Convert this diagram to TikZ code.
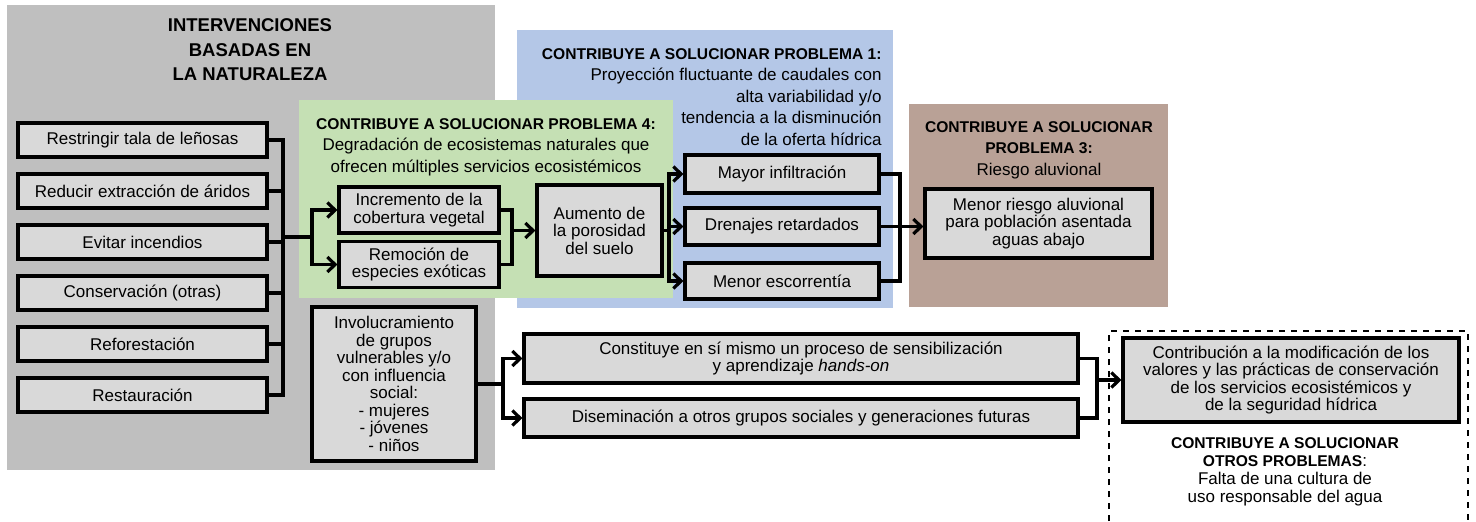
\documentclass[tikz,border=0pt]{standalone}
\usepackage{fontspec}
\setmainfont{Liberation Sans}
\usetikzlibrary{arrows.meta}

\definecolor{grisfondo}{HTML}{BFBFBF}
\definecolor{griscaja}{HTML}{D9D9D9}
\definecolor{verdep}{HTML}{C5E0B4}
\definecolor{azulp}{HTML}{B4C7E7}
\definecolor{cafep}{HTML}{B9A196}

\newcommand{\encab}[1]{{\fontsize{7.8}{10.75}\selectfont\bfseries #1}}

\begin{document}
\begin{tikzpicture}[
	         x             = 0.5pt,
	         y             = -0.5pt,
	         caja/.style   = {draw, line width=1.7pt, fill=griscaja, align=center, inner sep=1pt,
	                          font=\fontsize{8.5}{8.75}\selectfont},
	         linea/.style  = {line width=1.6pt, line cap=rect},
	         flecha/.style = {line width=1.6pt, line cap=rect, -{Straight Barb[length=3.8pt,width=7.5pt]}},
	         titulo/.style = {align=center, inner sep=0pt, font=\fontsize{8.5}{10.75}\selectfont}]
	  \useasboundingbox (0,0) rectangle (1476,521);
	  \fill [grisfondo] (7,5) rectangle (495,470);
	  \fill [azulp] (517,30) rectangle (893,308);
	  \fill [verdep] (299,100) rectangle (673,298);
	  \fill [cafep] (909,104) rectangle (1168,307);
	  \draw [dashed, line width=0.7pt] (1109,521) -- (1109,331) -- (1468,331) -- (1468,521);

	  \node [titulo, font=\fontsize{9.25}{12.25}\selectfont\bfseries] (tnat) at (250,50) {INTERVENCIONES\\BASADAS EN\\LA NATURALEZA};
	  \node [titulo] (tverde) at (486,147) {\encab{CONTRIBUYE A SOLUCIONAR PROBLEMA 4:}\\Degradación de ecosistemas naturales que\\ofrecen múltiples servicios ecosistémicos};
	  \node [titulo, align=right, anchor=east] (tazul) at (882,97) {\encab{CONTRIBUYE A SOLUCIONAR PROBLEMA 1:}\\Proyección fluctuante de caudales con\\alta variabilidad y/o\\tendencia a la disminución\\de la oferta hídrica};
	  \node [titulo] (tcafe) at (1039,150) {\encab{CONTRIBUYE A SOLUCIONAR}\\\encab{PROBLEMA 3:}\\Riesgo aluvional};
	  \node [titulo, font=\fontsize{8.5}{9}\selectfont] (totros) at (1285,472) {\encab{CONTRIBUYE A SOLUCIONAR}\\\encab{OTROS PROBLEMAS}:\\Falta de una cultura de\\uso responsable del agua};

	  \foreach \y/\nombre/\texto in {140/tala/Restringir tala de leñosas, 191/aridos/Reducir extracción de áridos,
	                                 242/incendios/Evitar incendios, 293/conserv/Conservación (otras),
	                                 344/refor/Reforestación, 395/restaur/Restauración}
	    \node [caja, minimum width=124.5pt, minimum height=17pt] (\nombre) at (142.5,\y) {\texto};

	  \node [caja, minimum width=80pt, minimum height=23pt] (inc) at (419,210) {Incremento de la\\cobertura vegetal};
	  \node [caja, minimum width=80pt, minimum height=23pt] (rem) at (419,264.5) {Remoción de\\especies exóticas};
	  \node [caja, minimum width=62.5pt, minimum height=45.5pt] (aum) at (599.5,230.5) {Aumento de\\la porosidad\\del suelo};
	  \node [caja, minimum width=97pt, minimum height=19pt] (may) at (782,174) {Mayor infiltración};
	  \node [caja, minimum width=97pt, minimum height=18.5pt] (dre) at (782,226.5) {Drenajes retardados};
	  \node [caja, minimum width=97pt, minimum height=18pt] (men) at (782,281) {Menor escorrentía};
	  \node [caja, minimum width=113.5pt, minimum height=34.5pt] (ries) at (1038.5,223.5) {Menor riesgo aluvional\\para población asentada\\aguas abajo};
	  \node [caja, minimum width=82pt, minimum height=77pt] (inv) at (394,384) {Involucramiento\\de grupos\\vulnerables y/o\\con influencia\\social:\\- mujeres\\- jóvenes\\- niños};
	  \node [caja, minimum width=277pt, minimum height=24.5pt] (con) at (801,358.5) {Constituye en sí mismo un proceso de sensibilización\\y aprendizaje \textit{hands-on}};
	  \node [caja, minimum width=277pt, minimum height=19pt] (dis) at (801,418) {Diseminación a otros grupos sociales y generaciones futuras};
	  \node [caja, minimum width=168pt, minimum height=42pt] (contrib) at (1291,380) {Contribución a la modificación de los\\valores y las prácticas de conservación\\de los servicios ecosistémicos y\\de la seguridad hídrica};

	  \coordinate (bus) at (283,237);
	  \coordinate (rama) at (312,237);
	  \foreach \nombre in {tala,aridos,incendios,conserv,refor,restaur}
	    \draw [linea] (\nombre.east) -- (\nombre.east -| bus);
	  \draw [linea] (tala.east -| bus) -- (restaur.east -| bus);
	  \draw [linea] (bus) -- (rama);
	  \draw [flecha] (rama) |- (inc.west);
	  \draw [flecha] (rama) |- (rem.west);

	  \coordinate (une) at (512,0);
	  \draw [linea] (inc.east) -- (inc.east -| une) -- (rem.east -| une) -- (rem.east);
	  \draw [flecha] (aum.west -| une) -- (aum.west);

	  \coordinate (rama2) at (669,0);
	  \draw [linea] (aum.east) -- (aum.east -| rama2);
	  \draw [linea] (may.west -| rama2) -- (men.west -| rama2);
	  \foreach \nombre in {may,dre,men}
	    \draw [flecha] (\nombre.west -| rama2) -- (\nombre.west);

	  \coordinate (une2) at (900,0);
	  \draw [linea] (may.east) -- (may.east -| une2) -- (men.east -| une2) -- (men.east);
	  \draw [flecha] (dre.east) -- (dre.east -| ries.west);

	  \coordinate (rama3) at (503,0);
	  \draw [linea] (inv.east) -- (inv.east -| rama3);
	  \draw [flecha] (inv.east -| rama3) |- (con.west);
	  \draw [flecha] (inv.east -| rama3) |- (dis.west);

	  \coordinate (une3) at (1097,0);
	  \draw [linea] (con.east) -- (con.east -| une3) -- (dis.east -| une3) -- (dis.east);
	  \draw [flecha] (contrib.west -| une3) -- (contrib.west);
	\end{tikzpicture}
\end{document}
